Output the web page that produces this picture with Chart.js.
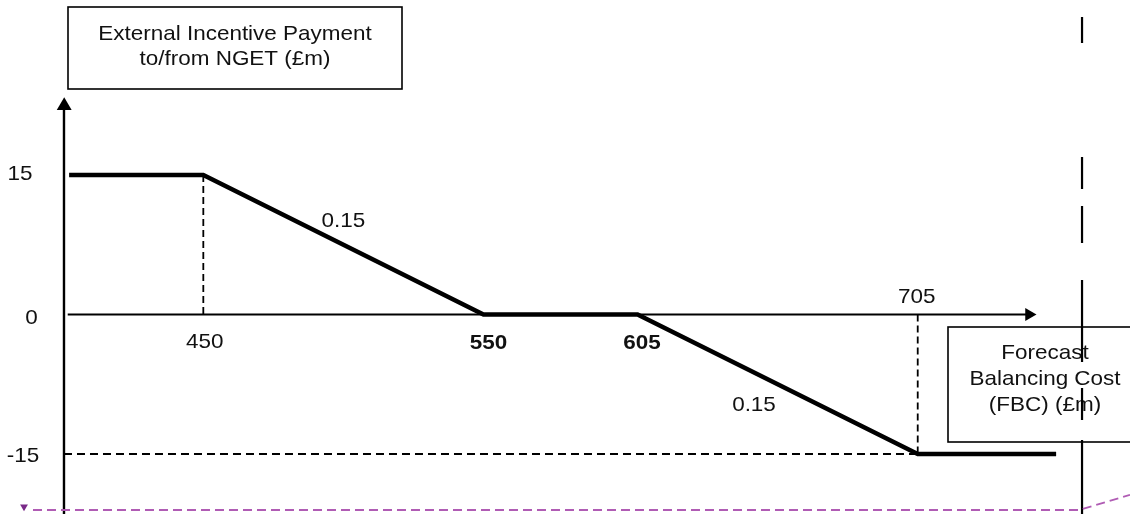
<!DOCTYPE html>
<html>
<head>
<meta charset="utf-8">
<script src="https://cdn.jsdelivr.net/npm/chart.js@4/dist/chart.umd.min.js"></script>
<style>
  html, body { margin: 0; padding: 0; background: #ffffff; }
  #wrap { width: 1130px; height: 514px; position: relative; }
</style>
</head>
<body>
<div id="wrap"><canvas id="c"></canvas></div>
<script>
// ---- Data (FBC in £m on x, incentive payment in £m on y) ----
const payoffX = [402.1, 450, 550, 605, 705, 754.4];
const payoffY = [15, 15, 0, 0, -15, -15];
const capFloorY = [15, -15];
const deadbandX = [550, 605];
const kneeX = [450, 705];
const slopeLabels = ['0.15', '0.15'];
const yTickLabels = ['15', '0', '-15'];
const xTickLabels = ['450', '550', '605', '705'];
const yAxisTitle = ['External Incentive Payment', 'to/from NGET (£m)'];
const xAxisTitle = ['Forecast', 'Balancing Cost', '(FBC) (£m)'];

// axis extents (value space)
const xAxisRange = [401.6, 745];
const yAxisRange = [-21.45, 22.5];
const yAxisAt = 400.27;
// purple dashed trace along bottom
const purpleX = [389.2, 762.5, 780.77];
const purpleY = [-21.02, -21.02, -19.4];
// long-dashed vertical marker
const markerX = 763.65;
const markerSegY = [[31.99, 29.2], [16.94, 13.5], [11.67, 7.69], [3.71, -5.1], [-7.9, -11.34], [-13.49, -21.45]];

const XMIN = 377.43, XMAX = 780.77, YMIN = -21.45, YMAX = 33.82;

const pts = (xs, ys) => xs.map((x, i) => ({ x: x, y: ys[i] }));

const markerPts = [];
markerSegY.forEach((s, i) => {
  if (i > 0) markerPts.push({ x: markerX, y: null });
  markerPts.push({ x: markerX, y: s[0] }, { x: markerX, y: s[1] });
});

const lineDs = (data, color, width, dash) => ({
  data: data, showLine: true, borderColor: color, borderWidth: width,
  borderDash: dash || [], pointRadius: 0, pointHoverRadius: 0, fill: false, clip: false, spanGaps: false,
  borderCapStyle: 'butt'
});

const FONT = '"Liberation Sans", Arial, Helvetica, sans-serif';
const SX = 1.07;

function txt(ctx, s, cx, base, bold) {
  ctx.save();
  ctx.translate(cx, base);
  ctx.scale(SX, 1);
  ctx.font = (bold ? 'bold ' : '') + '21px ' + FONT;
  ctx.fillStyle = '#111111';
  ctx.textAlign = 'center';
  ctx.textBaseline = 'alphabetic';
  ctx.fillText(s, 0, 0);
  ctx.restore();
}

const annotate = {
  id: 'annotate',
  beforeDatasetsDraw(chart) {
    const ctx = chart.ctx;
    const xs = chart.scales.x, ys = chart.scales.y;
    ctx.save();
    ctx.strokeStyle = '#000';
    ctx.lineWidth = 1.6;
    ctx.fillStyle = '#fff';
    ctx.fillRect(68, 7, 334, 82);
    ctx.strokeRect(68, 7, 334, 82);
    ctx.fillRect(948, 327, 200, 115);
    ctx.strokeRect(948, 327, 200, 115);
    ctx.restore();

    txt(ctx, yAxisTitle[0], 235, 39.5);
    txt(ctx, yAxisTitle[1], 235, 65);
    txt(ctx, xAxisTitle[0], 1045, 358.5);
    txt(ctx, xAxisTitle[1], 1045, 384.5);
    txt(ctx, xAxisTitle[2], 1045, 410.5);

    // y tick labels
    txt(ctx, yTickLabels[0], 20, ys.getPixelForValue(capFloorY[0]) + 5);
    txt(ctx, yTickLabels[1], 31.5, ys.getPixelForValue(0) + 9.5);
    txt(ctx, yTickLabels[2], 23, ys.getPixelForValue(capFloorY[1]) + 8);
    // x tick labels
    txt(ctx, xTickLabels[0], xs.getPixelForValue(kneeX[0]) + 1.4, 348);
    txt(ctx, xTickLabels[1], xs.getPixelForValue(deadbandX[0]) + 5, 349, true);
    txt(ctx, xTickLabels[2], xs.getPixelForValue(deadbandX[1]) + 4.4, 349, true);
    txt(ctx, xTickLabels[3], xs.getPixelForValue(kneeX[1]) - 1, 302.7);
    // slope labels
    txt(ctx, slopeLabels[0], 343.3, 227.3);
    txt(ctx, slopeLabels[1], 754, 410.7);
  }
};

new Chart(document.getElementById('c'), {
  type: 'scatter',
  data: {
    datasets: [
      // guides
      lineDs(pts([kneeX[0], kneeX[0]], [capFloorY[0], 0]), '#000', 1.8, [7, 4]),
      lineDs(pts([kneeX[1], kneeX[1]], [0, capFloorY[1]]), '#000', 1.8, [7, 4]),
      lineDs(pts([yAxisAt, kneeX[1]], [capFloorY[1], capFloorY[1]]), '#000', 1.9, [8, 5]),
      // purple trace
      lineDs(pts(purpleX, purpleY), '#b05cb4', 1.8, [9, 5]),
      {
        data: [{ x: 386.0, y: -20.66 }], pointStyle: 'triangle', rotation: 180,
        pointRadius: 4.5, pointHoverRadius: 4.5, backgroundColor: '#7a2a88', borderColor: '#7a2a88', borderWidth: 0, clip: false
      },
      // axes
      lineDs(pts(xAxisRange, [0, 0]), '#000', 2),
      lineDs(pts([yAxisAt, yAxisAt], yAxisRange), '#000', 2.4),
      {
        data: [{ x: 744.72, y: 0 }], pointStyle: 'triangle', rotation: 90,
        pointRadius: 7.5, pointHoverRadius: 7.5, backgroundColor: '#000', borderColor: '#000', borderWidth: 0, clip: false
      },
      {
        data: [{ x: yAxisAt + 0.08, y: 22.45 }], pointStyle: 'triangle', rotation: 0,
        pointRadius: 8.6, pointHoverRadius: 8.6, backgroundColor: '#000', borderColor: '#000', borderWidth: 0, clip: false
      },
      // payoff
      lineDs(pts(payoffX, payoffY), '#000', 4.5),
      // long-dashed marker
      lineDs(markerPts, '#000', 2.2)
    ]
  },
  options: {
    responsive: true,
    maintainAspectRatio: false,
    animation: false,
    events: [],
    layout: { padding: 0, autoPadding: false },
    plugins: { legend: { display: false }, tooltip: { enabled: false } },
    elements: { line: { tension: 0 } },
    scales: {
      x: { type: 'linear', min: XMIN, max: XMAX, display: false },
      y: { type: 'linear', min: YMIN, max: YMAX, display: false }
    }
  },
  plugins: [annotate]
});
</script>
</body>
</html>
